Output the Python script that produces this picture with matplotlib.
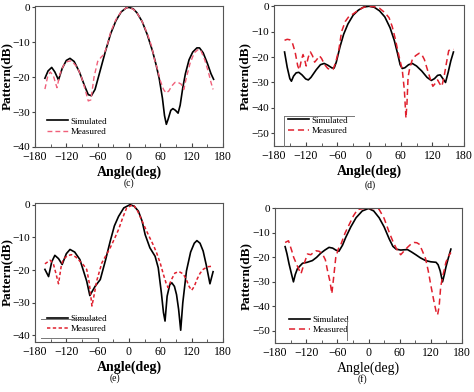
import matplotlib
matplotlib.use("Agg")
import matplotlib.pyplot as plt
from matplotlib.lines import Line2D

plt.rcParams['font.family'] = ['Liberation Serif', 'DejaVu Serif']
plt.rcParams['mathtext.fontset'] = 'stix'

# ---------------- data (angle in deg, pattern in dB) ----------------
c_sim_ang = [-161, -155, -148, -142, -135, -128, -120, -113, -105, -95, -85, -78, -72, -65, -55, -45, -35, -25, -15, -5, 0,
             8, 15, 25, 35, 45, 52, 58, 64, 68, 71.5, 75, 80, 84, 89, 94, 98, 103, 108, 115, 122, 130, 135, 142, 150, 157, 162]
c_sim_db = [-20.3, -18.2, -17.2, -18.5, -20.8, -17.5, -15.2, -14.6, -15.5, -18.5, -22.5, -25.0, -25.3, -23.5, -18, -12.5, -7.5, -3.8, -1.3, -0.1, 0,
            -0.4, -1.5, -4.0, -7.8, -12.5, -16.5, -20.5, -26, -31, -33.5, -32, -29.5, -29, -29.5, -30.3, -28, -23, -19, -15, -12.8, -11.6, -11.6, -13, -16, -19, -20.6]
c_mea_ang = [-161, -156, -151, -145, -138, -132, -125, -118, -110, -100, -92, -85, -78, -73, -67, -60, -53, -48, -42, -35, -25, -15, -5, 0,
             8, 15, 25, 35, 43, 49, 54, 60, 66, 71, 76, 82, 88, 94, 100, 105, 110, 117, 125, 133, 138, 145, 152, 157, 161]
c_mea_db = [-23.4, -20, -18.5, -19.5, -23, -19, -16.5, -15.5, -15.3, -17, -19.5, -23, -26.8, -26.5, -20, -15.5, -14.2, -13.5, -11, -7, -3.5, -1.2, -0.1, -0.1,
            -0.5, -1.5, -4, -7.5, -11, -15, -17.5, -21, -23.5, -24.5, -24, -22.5, -21.5, -21.5, -22, -23.5, -20, -16, -13, -12, -12.5, -15, -18.5, -21.5, -23.5]

d_sim_ang = [-160, -155, -150, -147, -143, -138, -133, -127, -120, -115, -110, -100, -92, -85, -78, -70, -66, -62, -55, -48, -40, -30, -20, -10, 0,
             10, 20, 30, 40, 48, 54, 59, 63, 68, 75, 82, 90, 100, 110, 118, 124, 130, 135, 140, 145, 150, 155, 160]
d_sim_db = [-18, -24, -28.5, -29.5, -27.5, -26.2, -26, -27, -28.6, -29, -28, -25, -23, -22.5, -23.2, -24.3, -24.3, -22, -16, -11, -7, -3.5, -1.5, -0.3, 0,
            -0.4, -1.8, -4.2, -8.5, -13.5, -18.5, -23, -24.5, -24.2, -23, -22.5, -23.5, -25.5, -28, -29.2, -28.5, -27.2, -27, -28.5, -30, -26, -21.5, -18]
d_mea_ang = [-160, -155, -150, -145, -140, -135, -132, -128, -125, -122, -119, -115, -111, -107, -103, -99, -94, -90, -84, -78, -72, -68, -63, -57, -52, -45, -38, -30, -20, -10, 0,
             10, 20, 30, 38, 44, 50, 55, 59, 63, 67, 70, 72, 74, 77, 82, 88, 95, 100, 105, 110, 116, 121, 125, 130, 134, 138, 142, 147, 151, 155, 160]
d_mea_db = [-13.4, -13, -13.2, -14.5, -18, -23.5, -25, -21, -19, -21, -23.5, -20, -18, -19.5, -22, -21, -19.5, -20.5, -23, -24.5, -25, -24.8, -22, -17, -10, -6, -4, -3, -1.5, -0.4, 0,
            -0.2, -0.8, -2.5, -4.5, -8, -13, -18, -21.5, -25, -33, -44, -38, -28, -24.5, -21, -19.5, -18.5, -19, -21, -24.5, -28.5, -31.5, -30.5, -29, -30.5, -31.5, -28, -22, -17.5, -16.8, -17]

e_sim_ang = [-161, -154, -148, -142, -135, -128, -120, -113, -104, -94, -81, -75, -65, -55, -45, -36, -28, -20, -10, 2,
             10, 18, 25, 31, 40, 45, 50, 56, 62, 66, 69, 73, 78, 82, 87, 91, 95, 99, 103, 110, 118, 125, 130, 136, 142, 148, 155, 161]
e_sim_db = [-19.8, -22, -17.5, -15.5, -16.5, -18.3, -15, -13.7, -14.5, -16.8, -23.4, -27.8, -25, -22.9, -17, -11.2, -6.5, -3.6, -1, 0,
            -0.5, -2, -5, -9.2, -13.2, -14.5, -15.8, -19.3, -27, -33, -35.6, -28, -24.5, -23.9, -25, -27.5, -32, -38.4, -30, -20.3, -14.5, -11.8, -11, -11.8, -14.2, -18.5, -24.2, -20.5]
e_mea_ang = [-161, -151, -145, -140, -135, -130, -126, -118, -110, -102, -94, -87, -81, -76, -71, -66, -62, -52, -44, -36, -28, -20, -12, -4.5, 8,
             16, 24, 32, 40, 47, 53, 60, 66, 71, 75, 81, 88, 96, 104, 110, 115, 120, 125, 130, 136, 142, 150, 161]
e_mea_db = [-18.1, -17, -18, -21, -24.2, -19, -16.8, -15.6, -15.3, -16, -17.3, -18.5, -19.8, -24, -31, -27, -23.4, -17.8, -15.5, -13.2, -10.5, -7.6, -4, -1, 0,
            -1.8, -4.6, -7.5, -10.2, -12.5, -14.8, -18, -21.4, -24, -25.4, -23, -20.9, -20.5, -21.2, -23, -25, -26.2, -25, -22.9, -21, -19.8, -19, -18.8]

f_sim_ang = [-160.5, -157, -153, -148, -144.5, -141, -137, -132, -127, -118, -108, -100, -92, -84, -76, -69, -63, -57, -50, -44, -34, -24, -12, 0,
             10, 20.5, 30, 40, 47, 53, 62, 68, 75, 83, 91, 100, 110, 120, 130, 134, 138, 142.5, 146, 149, 154, 158.6]
f_sim_db = [-15.6, -18.5, -22.6, -27, -30, -27, -24.7, -23.5, -22.4, -22, -21.3, -20, -18.3, -17, -15.9, -16.2, -17, -17.5, -15, -11.9, -7.5, -3.8, -1, 0,
            -1, -3.8, -7.5, -12.5, -15.5, -16.6, -17, -16.9, -16.8, -17.8, -18.9, -20.2, -21.3, -21.8, -22, -23, -25.5, -30, -27, -24, -20, -16.6]
f_mea_ang = [-160.5, -154, -147.7, -144, -140, -135, -130, -124, -117.5, -111, -106, -101, -95, -88.6, -83, -79, -74, -70.6, -67, -63, -58, -53, -45, -37, -29, -21, -8,
             5, 14, 20.5, 30, 40, 48, 56, 62, 68, 75, 82, 88, 93, 97.6, 103, 110, 115, 120, 126, 130, 133, 136, 139, 142.5, 146, 149, 154, 158.6]
f_mea_db = [-13.9, -13.2, -17.3, -20, -22, -24.5, -26.7, -22.6, -18.6, -18.9, -18, -17.3, -17.5, -18.6, -21, -25.3, -30, -34.8, -28, -20, -16.5, -14.6, -10, -6.5, -3, -0.4, 0,
            0, 0, -0.4, -4, -9.8, -14, -17.3, -18.9, -17.5, -15.9, -14.5, -13.9, -14, -14.6, -17, -20.6, -25.5, -31.4, -38, -42, -43.5, -40, -32, -28, -25, -22, -19.5, -18]

legend_labels = ["Simulated", "Measured"]
xticks = [-180, -120, -60, 0, 60, 120, 180]
panel_labels = ["(c)", "(d)", "(e)", "(f)"]

W, H = 474, 392
fig = plt.figure(figsize=(W / 100, H / 100), dpi=100)

def rect(l, r, t, b):
    return [l / W, 1 - b / H, (r - l) / W, (b - t) / H]

specs = [
    dict(rect=rect(35, 223, 6, 147), ylim=(-40, 0.4), yticks=[0, -10, -20, -30, -40],
         sim=(c_sim_ang, c_sim_db), mea=(c_mea_ang, c_mea_db), mcol='#f0607a', mdash=(3.5, 2.2), mlw=1.0,
         xbold=True, lab=(129, 183), leg=(0.03, 0.035), ylx=-0.115),
    dict(rect=rect(274, 464, 5, 146), ylim=(-55, 0.5), yticks=[0, -10, -20, -30, -40, -50],
         sim=(d_sim_ang, d_sim_db), mea=(d_mea_ang, d_mea_db), mcol='#e0202e', mdash=(4, 2.5), mlw=1.1,
         xbold=True, lab=(370, 185), leg=(0.04, 0.035), ylx=-0.122),
    dict(rect=rect(35, 223, 203, 342), ylim=(-42, 0.5), yticks=[0, -10, -20, -30, -40],
         sim=(e_sim_ang, e_sim_db), mea=(e_mea_ang, e_mea_db), mcol='#e0202e', mdash=(2.2, 1.6), mlw=1.1,
         xbold=True, lab=(115, 378), leg=(0.03, 0.02), ylx=-0.115),
    dict(rect=rect(275, 462, 208, 343), ylim=(-55, 0.2), yticks=[0, -10, -20, -30, -40, -50],
         sim=(f_sim_ang, f_sim_db), mea=(f_mea_ang, f_mea_db), mcol='#e0202e', mdash=(4, 2.5), mlw=1.1,
         xbold=False, lab=(362, 379), leg=(0.04, 0.02), ylx=-0.124),
]

for i, s in enumerate(specs):
    ax = fig.add_axes(s['rect'])
    ax.plot(s['sim'][0], s['sim'][1], color='black', lw=1.2, label=legend_labels[0])
    ax.plot(s['mea'][0], s['mea'][1], color=s['mcol'], lw=s['mlw'], dashes=s['mdash'], label=legend_labels[1])
    ax.set_xlim(-180, 180)
    ax.set_ylim(*s['ylim'])
    ax.set_xticks(xticks)
    ax.set_xticks(range(-150, 180, 60), minor=True)
    ax.set_yticks(s['yticks'])
    ax.set_xticklabels([f"\u2212{abs(v)}" if v < 0 else str(v) for v in xticks])
    ax.set_yticklabels([f"\u2212{abs(v)}" if v < 0 else str(v) for v in s['yticks']])
    ax.tick_params(axis='x', which='both', direction='in', labelsize=8.5, length=3, pad=3, color='#444')
    ax.tick_params(axis='x', which='minor', length=2)
    ax.tick_params(axis='y', direction='out', labelsize=8.2, length=2.5, pad=1, color='#444')
    for sp in ax.spines.values():
        sp.set_color('#555')
        sp.set_linewidth(0.8)
    ax.set_xlabel("Angle(deg)", fontsize=10, fontweight='bold' if s['xbold'] else 'normal', labelpad=2)
    ax.set_ylabel("Pattern(dB)", fontsize=9.5, fontweight='bold')
    ax.yaxis.set_label_coords(s['ylx'], 0.5)
    ax.legend(loc='lower left', bbox_to_anchor=s['leg'], frameon=False, fontsize=6.5,
              handlelength=2.3, handletextpad=0.3, labelspacing=0.2, borderpad=0.2)
    fig.text(s['lab'][0] / W, 1 - s['lab'][1] / H, panel_labels[i], ha='center', va='center', fontsize=7)

    # partial legend box fragments seen in the original
    if i == 1:
        fig.add_artist(Line2D([284 / W, 354 / W], [1 - 116 / H, 1 - 116 / H], color='#777', lw=0.7))
        fig.add_artist(Line2D([284 / W, 284 / W], [1 - 116 / H, 1 - 146 / H], color='#777', lw=0.7))
    if i == 2:
        fig.add_artist(Line2D([41 / W, 98 / W], [1 - 319 / H, 1 - 319 / H], color='#777', lw=0.7))
        fig.add_artist(Line2D([41 / W, 98 / W], [1 - 338 / H, 1 - 338 / H], color='#777', lw=0.7))
    if i == 3:
        fig.add_artist(Line2D([347 / W, 347 / W], [1 - 320 / H, 1 - 340 / H], color='#777', lw=0.7))

fig.savefig("out.png", dpi=100)
